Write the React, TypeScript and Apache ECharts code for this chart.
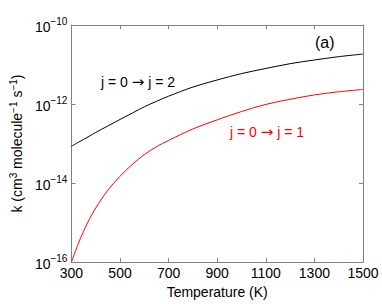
import React, { useEffect, useRef } from "react";
import * as echarts from "echarts";

const temperatures = [300, 325, 350, 375, 400, 450, 500, 550, 600, 650, 700, 800, 900, 1000, 1100, 1200, 1300, 1400, 1500];
const kJ0toJ2 = [8.51e-14, 1.047e-13, 1.27e-13, 1.55e-13, 1.91e-13, 2.79e-13, 4.07e-13, 5.89e-13, 8.51e-13, 1.17e-12, 1.58e-12, 2.69e-12, 4.07e-12, 5.89e-12, 7.94e-12, 1.05e-11, 1.3e-11, 1.58e-11, 1.84e-11];
const kJ0toJ1 = [1.0e-16, 2.63e-16, 6.03e-16, 1.26e-15, 2.34e-15, 6.61e-15, 1.48e-14, 2.95e-14, 5.25e-14, 8.3e-14, 1.2e-13, 2.34e-13, 3.98e-13, 6.46e-13, 9.77e-13, 1.32e-12, 1.7e-12, 2.04e-12, 2.34e-12];
const xTicks = { min: 300, max: 1500, interval: 200 };
const yRange = { min: 1e-16, max: 1e-10 };
const labelJ2 = ["j = 0 ", "\u2192", " j = 2"];
const labelJ1 = ["j = 0 ", "\u2192", " j = 1"];
const panelLabel = "(a)";

const FONT = "Liberation Sans, Arial, Helvetica, sans-serif";

export default function App() {
  const ref = useRef<HTMLDivElement>(null);
  useEffect(() => {
    document.body.style.margin = "0";
    const chart = echarts.init(ref.current!, null, { renderer: "svg" });
    const axisLine = { show: true, lineStyle: { color: "#808080", width: 1 } };
    const tick = { show: true, inside: true, length: 4, lineStyle: { color: "#808080" } };
    const yFmt = (v: number) => {
      const e = Math.round(Math.log10(v));
      return `{b|10}{s|${e < 0 ? "\u2212" + -e : e}}`;
    };
    const annot = (parts: string[]) => `{t|${parts[0]}}{a|${parts[1]}}{t|${parts[2]}}`;
    const annotRich = (color: string) => ({
      t: { fontSize: 14, fontFamily: FONT, fill: color, color },
      a: { fontSize: 15, fontFamily: "DejaVu Sans", fill: color, color },
    });
    chart.setOption({
      animation: false,
      textStyle: { fontFamily: FONT },
      grid: { left: 57, right: 19, top: 25, bottom: 34 },
      xAxis: [
        {
          type: "value",
          min: xTicks.min,
          max: xTicks.max,
          interval: xTicks.interval,
          name: "Temperature (K)",
          nameLocation: "middle",
          nameGap: 16,
          nameTextStyle: { color: "#000", fontSize: 14, fontFamily: FONT },
          axisLine,
          axisTick: tick,
          splitLine: { show: false },
          axisLabel: { color: "#000", fontSize: 14, margin: 4, fontFamily: FONT, formatter: (v: number) => String(v) },
        },
        {
          type: "value",
          position: "top",
          min: xTicks.min,
          max: xTicks.max,
          interval: xTicks.interval,
          axisLine,
          axisTick: tick,
          splitLine: { show: false },
          axisLabel: { show: false },
        },
      ],
      yAxis: [
        {
          type: "log",
          logBase: 10,
          min: yRange.min,
          max: yRange.max,
          interval: 2,
          name: "{b|k (cm}{s|3}{b| molecule}{s|\u22121}{b| s}{s|\u22121}{b|)}",
          nameLocation: "middle",
          nameRotate: 90,
          nameGap: 35,
          nameTextStyle: {
            color: "#000",
            rich: {
              b: { fontSize: 14, fontFamily: FONT, color: "#000", verticalAlign: "bottom" },
              s: { fontSize: 10, fontFamily: FONT, color: "#000", verticalAlign: "bottom", padding: [0, 0, 6, 0] },
            },
          },
          axisLine,
          axisTick: tick,
          splitLine: { show: false },
          axisLabel: {
            formatter: yFmt,
            margin: 4,
            rich: {
              b: { fontSize: 14, fontFamily: FONT, color: "#000", verticalAlign: "bottom" },
              s: { fontSize: 10, fontFamily: FONT, color: "#000", verticalAlign: "bottom", padding: [0, 0, 7, 0] },
            },
          },
        },
        {
          type: "log",
          logBase: 10,
          position: "right",
          min: yRange.min,
          max: yRange.max,
          interval: 2,
          axisLine,
          axisTick: tick,
          splitLine: { show: false },
          axisLabel: { show: false },
        },
      ],
      series: [
        {
          type: "line",
          data: temperatures.map((t, i) => [t, kJ0toJ2[i]]),
          smooth: 0.35,
          showSymbol: false,
          lineStyle: { color: "#000", width: 1 },
          itemStyle: { color: "#000" },
        },
        {
          type: "line",
          data: temperatures.map((t, i) => [t, kJ0toJ1[i]]),
          smooth: 0.35,
          showSymbol: false,
          lineStyle: { color: "#ff0000", width: 1 },
          itemStyle: { color: "#ff0000" },
        },
      ],
      graphic: [
        { type: "text", x: 101, y: 82, style: { text: annot(labelJ2), rich: annotRich("#000"), verticalAlign: "middle", fill: "#000" } },
        { type: "text", x: 230, y: 132, style: { text: annot(labelJ1), rich: annotRich("#ff0000"), verticalAlign: "middle", fill: "#ff0000" } },
        { type: "text", x: 315, y: 42, style: { text: panelLabel, fill: "#000", font: `16px ${FONT}`, verticalAlign: "middle" } },
      ],
    });
    return () => chart.dispose();
  }, []);
  return <div ref={ref} style={{ width: 382, height: 304 }} />;
}
